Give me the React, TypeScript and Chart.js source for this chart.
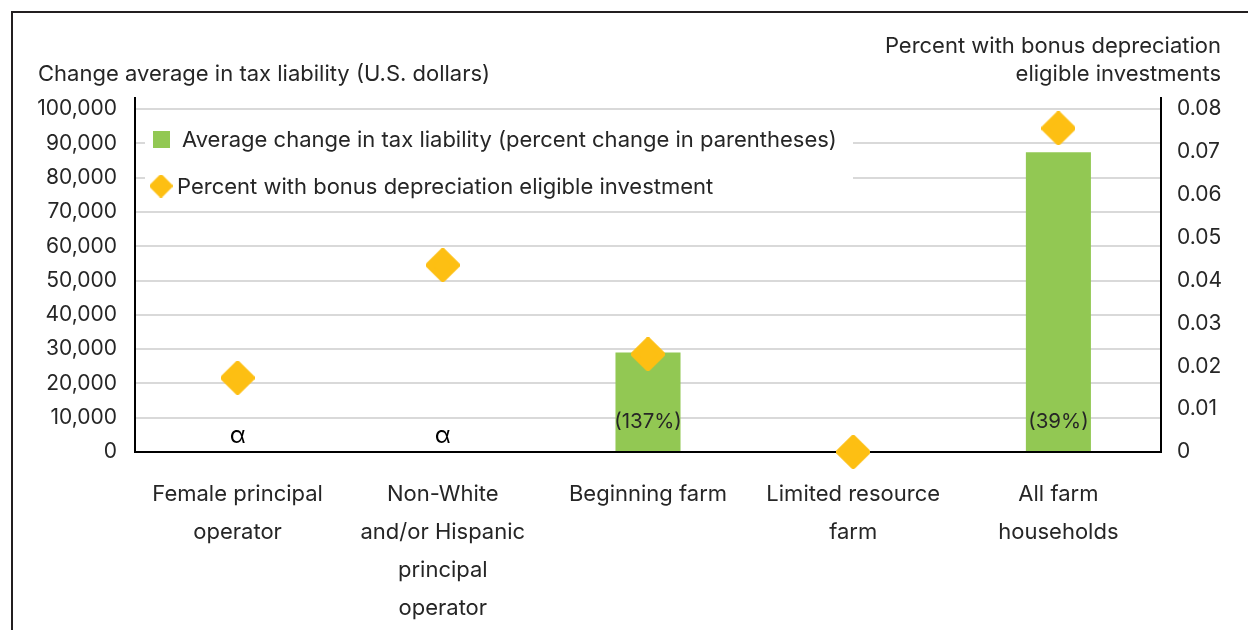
import React, { useEffect, useRef } from "react";
import { Chart, registerables } from "chart.js";

Chart.register(...registerables);

const categories: string[][] = [
  ["Female principal", "operator"],
  ["Non-White", "and/or Hispanic", "principal", "operator"],
  ["Beginning farm"],
  ["Limited resource", "farm"],
  ["All farm", "households"],
];
const avgChangeTax: (number | null)[] = [null, null, 29000, 0, 87400];
const pctBonusEligible: number[] = [0.0173, 0.0436, 0.0228, 0, 0.0755];
const barLabels: string[] = ["α", "α", "(137%)", "", "(39%)"];
const leftTicks: number[] = [0, 10000, 20000, 30000, 40000, 50000, 60000, 70000, 80000, 90000, 100000];
const rightTicks: number[] = [0, 0.01, 0.02, 0.03, 0.04, 0.05, 0.06, 0.07, 0.08];

const barLegend = "Average change in tax liability (percent change in parentheses)";
const pointLegend = "Percent with bonus depreciation eligible investment";
const leftTitle = "Change average in tax liability (U.S. dollars)";
const rightTitle = ["Percent with bonus depreciation", "eligible investments"];

const GREEN = "#92c853";
const GOLD = "#fdbf13";
const TEXT = "#262626";
const FONT = "Inter, 'Noto Sans', sans-serif";

function makeDiamond(size: number, color: string): HTMLCanvasElement {
  const c = document.createElement("canvas");
  c.width = size;
  c.height = size;
  const ctx = c.getContext("2d")!;
  const h = size / 2;
  const r = size * 0.09;
  ctx.fillStyle = color;
  ctx.strokeStyle = color;
  ctx.lineJoin = "round";
  ctx.lineWidth = r * 2;
  ctx.beginPath();
  ctx.moveTo(h, r);
  ctx.lineTo(size - r, h);
  ctx.lineTo(h, size - r);
  ctx.lineTo(r, h);
  ctx.closePath();
  ctx.fill();
  ctx.stroke();
  return c;
}

export default function App() {
  const ref = useRef<HTMLCanvasElement | null>(null);

  useEffect(() => {
    if (!ref.current) return;
    const diamond = makeDiamond(34, GOLD);
    const legendDiamond = makeDiamond(23, GOLD);

    const framePlugin = {
      id: "frame",
      beforeDraw(chart: any) {
        const ctx = chart.ctx;
        ctx.save();
        ctx.fillStyle = "#ffffff";
        ctx.fillRect(0, 0, chart.width, chart.height);
        ctx.strokeStyle = "#231f20";
        ctx.lineWidth = 2;
        ctx.beginPath();
        ctx.moveTo(12, chart.height);
        ctx.lineTo(12, 12);
        ctx.lineTo(chart.width, 12);
        ctx.stroke();
        ctx.fillStyle = TEXT;
        ctx.font = `22px ${FONT}`;
        ctx.textBaseline = "middle";
        ctx.textAlign = "left";
        ctx.fillText(leftTitle, 38, 74);
        ctx.textAlign = "right";
        ctx.fillText(rightTitle[0], 1221, 46);
        ctx.fillText(rightTitle[1], 1221, 74);
        ctx.restore();
      },
    };

    const legendPlugin = {
      id: "insideLegend",
      beforeDatasetsDraw(chart: any) {
        const ctx = chart.ctx;
        ctx.save();
        ctx.fillStyle = "#ffffff";
        ctx.fillRect(145, 117, 708, 88);
        ctx.fillStyle = GREEN;
        ctx.fillRect(153, 131, 17, 17);
        ctx.drawImage(legendDiamond, 161 - 11.5, 186 - 11.5);
        ctx.fillStyle = TEXT;
        ctx.font = `22px ${FONT}`;
        ctx.textBaseline = "middle";
        ctx.textAlign = "left";
        ctx.fillText(chart.data.datasets[0].label, 182, 140);
        ctx.fillText(chart.data.datasets[1].label, 177, 187);
        ctx.restore();
      },
    };

    const labelPlugin = {
      id: "barLabels",
      afterDatasetsDraw(chart: any) {
        const ctx = chart.ctx;
        const xs = chart.scales.x;
        const ys = chart.scales.y;
        const base = ys.getPixelForValue(0);
        ctx.save();
        ctx.textAlign = "center";
        ctx.textBaseline = "middle";
        barLabels.forEach((lab, i) => {
          if (!lab) return;
          const x = xs.getPixelForValue(i);
          const v = avgChangeTax[i];
          if (v === null) {
            ctx.fillStyle = "#000000";
            ctx.font = `24px ${FONT}`;
            ctx.fillText(lab, x, base - 16);
          } else {
            ctx.fillStyle = TEXT;
            ctx.font = `20.5px ${FONT}`;
            ctx.fillText(lab, x, base - 30);
          }
        });
        ctx.restore();
      },
    };

    const chart = new Chart(ref.current, {
      type: "bar",
      data: {
        labels: categories,
        datasets: [
          {
            type: "bar",
            label: barLegend,
            data: avgChangeTax,
            backgroundColor: GREEN,
            yAxisID: "y",
            categoryPercentage: 1,
            barPercentage: 0.317,
            order: 2,
          },
          {
            type: "line",
            label: pointLegend,
            data: pctBonusEligible,
            yAxisID: "y1",
            showLine: false,
            pointStyle: diamond as any,
            pointRadius: 17,
            backgroundColor: GOLD,
            borderColor: GOLD,
            order: 1,
            clip: false as any,
          },
        ],
      },
      options: {
        responsive: false,
        animation: false,
        events: [],
        layout: { padding: { top: 98, left: 0, right: 0, bottom: 0 } },
        plugins: {
          legend: { display: false },
          tooltip: { enabled: false },
          title: { display: false },
        },
        scales: {
          x: {
            grid: { display: false, drawTicks: false },
            border: { display: true, color: "#000000", width: 2 },
            ticks: {
              color: TEXT,
              font: { family: FONT, size: 22, lineHeight: 38 / 22 },
              padding: 23,
              maxRotation: 0,
              autoSkip: false,
            },
            afterFit(scale: any) {
              scale.height = 178;
            },
          },
          y: {
            position: "left",
            min: 0,
            max: 103207,
            afterBuildTicks(scale: any) {
              scale.ticks = leftTicks.map((v) => ({ value: v }));
            },
            afterFit(scale: any) {
              scale.width = 135;
            },
            grid: { color: "#d9d9d9", lineWidth: 2, drawTicks: false },
            border: { display: true, color: "#000000", width: 2 },
            ticks: {
              color: TEXT,
              font: { family: FONT, size: 21 },
              padding: 18,
              callback: (v: any) => Number(v).toLocaleString("en-US"),
            },
          },
          y1: {
            position: "right",
            min: 0,
            max: 0.082566,
            afterBuildTicks(scale: any) {
              scale.ticks = rightTicks.map((v) => ({ value: v }));
            },
            afterFit(scale: any) {
              scale.width = 87;
            },
            grid: { display: false, drawTicks: false },
            border: { display: true, color: "#000000", width: 2 },
            ticks: {
              color: TEXT,
              font: { family: FONT, size: 21 },
              padding: 16,
              callback: (v: any) => String(Number(Number(v).toFixed(2))),
            },
          },
        },
      },
      plugins: [framePlugin, legendPlugin, labelPlugin],
    });
    return () => chart.destroy();
  }, []);

  return (
    <div style={{ position: "fixed", left: 0, top: 0, width: 1248, height: 630, background: "#fff" }}>
      <canvas ref={ref} width={1248} height={630} style={{ display: "block", width: 1248, height: 630 }} />
    </div>
  );
}
